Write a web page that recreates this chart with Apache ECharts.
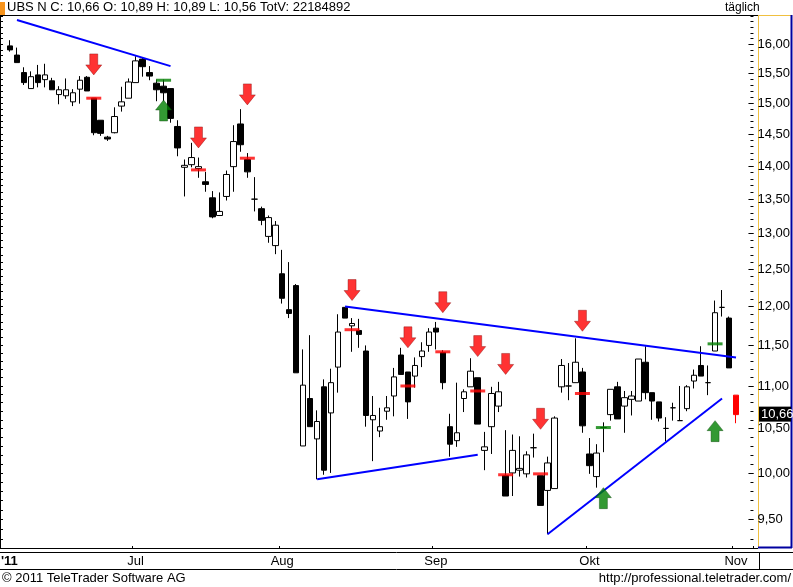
<!DOCTYPE html>
<html><head><meta charset="utf-8">
<script src="https://cdn.jsdelivr.net/npm/echarts@6/dist/echarts.min.js"></script>
<style>html,body{margin:0;padding:0;background:#fff}#c{width:793px;height:587px}</style>
</head><body><div id="c"></div>
<script>
// OHLC per trading day
const opens  = [15.97,15.81,15.51,15.24,15.47,15.39,15.37,15.14,15.12,15.02,15.23,15.43,15.08,14.72,14.45,14.52,14.95,15.08,15.34,15.74,15.51,15.33,15.28,15.24,14.62,13.98,14.02,13.96,13.76,13.52,13.26,13.54,13.99,14.66,14.10,13.50,13.36,12.96,12.83,12.44,11.96,12.28,10.30,10.85,10.38,10.99,10.68,11.23,11.99,11.75,11.69,11.43,10.60,10.47,10.70,10.88,11.38,11.17,11.12,11.36,11.50,11.72,11.41,10.52,10.36,10.85,10.99,11.10,10.25,10.52,10.76,9.97,10.00,10.03,9.99,10.28,9.97,9.81,9.83,10.99,11.00,11.04,11.17,10.21,9.96,10.51,10.66,10.99,10.76,10.84,10.82,11.29,10.92,10.81,10.50,10.74,10.59,10.73,11.06,11.25,11.04,11.43,11.99,11.85,10.89];
const highs  = [16.07,15.94,15.60,15.53,15.64,15.66,15.42,15.28,15.41,15.23,15.45,15.45,15.08,14.72,14.47,14.93,15.27,15.41,15.79,15.76,15.62,15.39,15.39,15.24,14.72,14.10,14.36,14.13,13.91,13.62,13.60,13.93,14.64,14.90,14.20,13.83,13.39,13.26,13.18,12.77,12.60,12.30,11.45,11.63,10.71,11.08,11.21,11.90,11.99,11.85,11.84,11.50,10.88,10.74,10.88,11.22,11.47,11.17,11.35,11.54,11.72,11.80,11.44,10.67,11.04,10.96,11.34,11.10,10.46,10.99,11.05,10.48,10.43,10.41,10.24,10.44,9.97,10.18,10.64,11.33,11.28,11.59,11.22,10.39,10.32,10.57,10.96,11.05,10.94,10.94,11.33,11.49,10.92,10.81,10.63,10.80,11.00,11.01,11.20,11.49,11.25,12.08,12.22,11.87,10.89];
const lows   = [15.87,15.68,15.30,15.24,15.26,15.26,15.22,14.98,15.07,14.95,14.99,15.20,14.48,14.47,14.39,14.51,14.86,15.08,15.34,15.44,15.38,15.03,15.03,14.68,14.15,13.54,13.98,13.82,13.61,13.22,13.26,13.48,13.61,14.22,13.82,13.32,13.12,12.87,12.71,12.04,11.85,11.16,10.30,10.52,9.93,9.98,10.00,10.92,11.85,11.42,11.47,10.52,10.13,10.40,10.60,10.64,11.14,10.61,10.98,11.23,11.42,11.45,10.96,10.18,10.29,10.69,10.99,10.55,10.03,10.21,10.69,9.75,9.75,9.96,9.95,10.17,9.65,9.35,9.83,10.92,10.83,11.04,10.45,9.99,9.84,10.23,10.59,10.61,10.45,10.65,10.82,10.84,10.60,10.58,10.35,10.59,10.59,10.70,10.97,11.12,10.89,11.43,11.87,11.22,10.56];
const closes = [15.90,15.68,15.34,15.44,15.34,15.47,15.22,15.22,15.22,15.17,15.38,15.20,14.52,14.51,14.42,14.78,15.02,15.35,15.71,15.61,15.45,15.22,15.17,14.75,14.28,14.01,14.13,13.99,13.72,13.24,13.32,13.87,14.38,14.33,13.91,13.50,13.19,13.23,13.12,12.11,11.91,11.16,11.01,10.52,10.58,10.03,11.04,11.67,11.85,11.78,11.64,10.65,10.65,10.52,10.74,11.11,11.14,10.81,11.25,11.43,11.67,11.67,11.04,10.32,10.45,10.93,11.18,10.55,10.29,10.91,10.93,9.75,10.25,10.05,10.20,10.28,9.65,10.11,10.62,11.25,11.00,11.29,10.53,10.08,10.22,10.51,10.96,10.61,10.86,10.88,11.33,10.92,10.82,10.62,10.50,10.74,10.59,10.99,11.13,11.12,11.04,11.92,11.99,11.22,10.66];
const monthLabels = {18:'Jul',39:'Aug',61:'Sep',83:'Okt',104:'Nov'};
const priceTicks = [9.5,10,10.5,11,11.5,12,12.5,13,13.5,14,14.5,15,15.5,16];
const downArrows = [[12,15.47],[27,14.28],[34,14.97],[49,12.08],[57,11.47],[62,11.92],[67,11.36],[71,11.14],[76,10.49],[82,11.68]];
const upArrows = [[22,15.05],[85,9.84],[101,10.59]];
const redMarks = [[12,15.08],[27,13.94],[34,14.12],[49,11.70],[57,11.00],[62,11.42],[67,10.94],[71,9.98],[76,9.99],[82,10.91]];
const greenMarks = [[22,15.38],[85,10.51],[101,11.52]];
const trendLines = [[[1,16.43],[23,15.62]],[[48,12.00],[103.6,11.35]],[[44,9.93],[67,10.20]],[[77,9.35],[102,10.85]]];
const lastPrice = 10.66;

const L = Math.log10;
const n = opens.length, nCat = n + 2;
const cats = Array.from({length:nCat},(_,i)=>String(i));
const candles = opens.map((o,i)=>{
  const v=[L(o),L(closes[i]),L(lows[i]),L(highs[i])];
  if(i===n-1) return {value:v,itemStyle:{color:'#ff0000',color0:'#ff0000',borderColor:'#ff0000',borderColor0:'#ff0000'}};
  return v;
});
const minorTicks=[]; for(let k=93;k<=165;k++) minorTicks.push(L(k/10));
const fmt = v => (Math.pow(10,v)).toFixed(2).replace('.',',');
const font = {fontFamily:'Liberation Sans', fontSize:13, color:'#000'};
const downPath='path://M4,0 L12,0 L12,11 L16,11 L8,21 L0,11 L4,11 Z';
const upPath='path://M8,0 L16,10 L12,10 L12,21 L4,21 L4,10 L0,10 Z';
const yMin=L(9.21), yMax=L(16.52);
const tlData = trendLines.map(s=>[{coord:[s[0][0],L(s[0][1])]},{coord:[s[1][0],L(s[1][1])]}]);

const graphics = [
    {type:'rect',shape:{x:0,y:2,width:5,height:13},style:{fill:'#f7941d'}},
    {type:'text',left:7,top:1,style:{text:'UBS N C: 10,66 O: 10,89 H: 10,89 L: 10,56 TotV: 22184892',fill:'#000',font:'13px "Liberation Sans"'}},
    {type:'text',left:725,top:2,style:{text:'täglich',fill:'#000',font:'12px "Liberation Sans"'}},
    {type:'line',shape:{x1:0,y1:15.5,x2:758,y2:15.5},style:{stroke:'#000',lineWidth:1}},
    {type:'line',shape:{x1:758,y1:15.5,x2:791,y2:15.5},style:{stroke:'#f0c040',lineWidth:1}},
    {type:'line',shape:{x1:758.5,y1:15,x2:758.5,y2:548},style:{stroke:'#f0c040',lineWidth:1}},
    {type:'line',shape:{x1:791.5,y1:15,x2:791.5,y2:548},style:{stroke:'#0000a0',lineWidth:2}},
    {type:'line',shape:{x1:758,y1:547.5,x2:792,y2:547.5},style:{stroke:'#0000a0',lineWidth:2}},
    {type:'line',shape:{x1:0,y1:548.5,x2:758,y2:548.5},style:{stroke:'#000',lineWidth:1}},
    {type:'line',shape:{x1:0,y1:552.5,x2:793,y2:552.5},style:{stroke:'#000',lineWidth:1}},
    {type:'line',shape:{x1:0,y1:569.5,x2:793,y2:569.5},style:{stroke:'#000',lineWidth:1}},
    {type:'line',shape:{x1:759.5,y1:552,x2:759.5,y2:570},style:{stroke:'#000',lineWidth:1}},
    {type:'line',shape:{x1:0.5,y1:15,x2:0.5,y2:548},style:{stroke:'#000',lineWidth:1}},
    {type:'text',left:1,top:555,style:{text:"'11",fill:'#000',font:'bold 13px "Liberation Sans"'}},
    {type:'text',left:2,top:572,style:{text:'© 2011 TeleTrader Software AG',fill:'#000',font:'13px "Liberation Sans"'}},
    {type:'text',right:2,top:572,style:{text:'http://professional.teletrader.com/',fill:'#000',font:'13px "Liberation Sans"'}}
];

const chart = echarts.init(document.getElementById('c'));
chart.setOption({
  animation:false,
  grid:{left:6.5,right:35,top:15,bottom:39,show:false},
  xAxis:{type:'category',data:cats,boundaryGap:true,
    axisLine:{show:false},
    axisTick:{show:true,inside:true,length:2,lineStyle:{color:'#000'},interval:(i)=>monthLabels[i]!==undefined},
    axisLabel:{interval:0,formatter:(v,i)=>monthLabels[i]||'',margin:7,...font}},
  yAxis:[
    {type:'value',position:'right',min:yMin,max:yMax,scale:true,splitLine:{show:false},
     axisLine:{show:false},
     axisTick:{show:true,length:5,inside:true,customValues:priceTicks.map(L),lineStyle:{color:'#000'}},
     axisLabel:{customValues:priceTicks.map(L),formatter:fmt,margin:4,...font}},
    {type:'value',position:'right',min:yMin,max:yMax,scale:true,splitLine:{show:false},
     axisLine:{show:false},axisLabel:{show:false},
     axisTick:{show:true,length:3,inside:true,customValues:minorTicks,lineStyle:{color:'#000'}}},
    {type:'value',position:'left',offset:6.5,min:yMin,max:yMax,scale:true,splitLine:{show:false},
     axisLine:{show:false},axisLabel:{show:false},
     axisTick:{show:true,length:3,inside:true,customValues:minorTicks,lineStyle:{color:'#000'}}}
  ],
  series:[
    {type:'candlestick',data:candles,barWidth:6,
     itemStyle:{color:'#ffffff',color0:'#000000',borderColor:'#000000',borderColor0:'#000000',borderWidth:1},
     markLine:{silent:true,symbol:['none','none'],animation:false,
       lineStyle:{color:'#0000ff',width:2,type:'solid'},label:{show:false},data:tlData}},
    {type:'scatter',data:downArrows.map(p=>[p[0],L(p[1])]),symbol:downPath,symbolSize:[16,21],symbolOffset:[0,-10.5],
     itemStyle:{color:'#ff0000',borderColor:'#800000',borderWidth:0.5},z:5},
    {type:'scatter',data:upArrows.map(p=>[p[0],L(p[1])]),symbol:upPath,symbolSize:[16,21],symbolOffset:[0,10.5],
     itemStyle:{color:'#008000',borderColor:'#004000',borderWidth:0.5},z:5},
    {type:'scatter',data:redMarks.map(p=>[p[0],L(p[1])]),symbol:'rect',symbolSize:[15,3],itemStyle:{color:'#ff0000'},z:6},
    {type:'scatter',data:greenMarks.map(p=>[p[0],L(p[1])]),symbol:'rect',symbolSize:[15,3],itemStyle:{color:'#008000'},z:6}
  ],
  graphic:graphics
});
const yl = chart.convertToPixel({yAxisIndex:0}, L(lastPrice));
graphics.push({type:'rect',z:100,shape:{x:759,y:yl-8,width:32,height:15},style:{fill:'#000'}});
graphics.push({type:'text',z:101,x:761,y:yl-7,style:{text:'10,66',fill:'#fff',font:'13px "Liberation Sans"'}});
chart.setOption({graphic:graphics});
</script></body></html>
